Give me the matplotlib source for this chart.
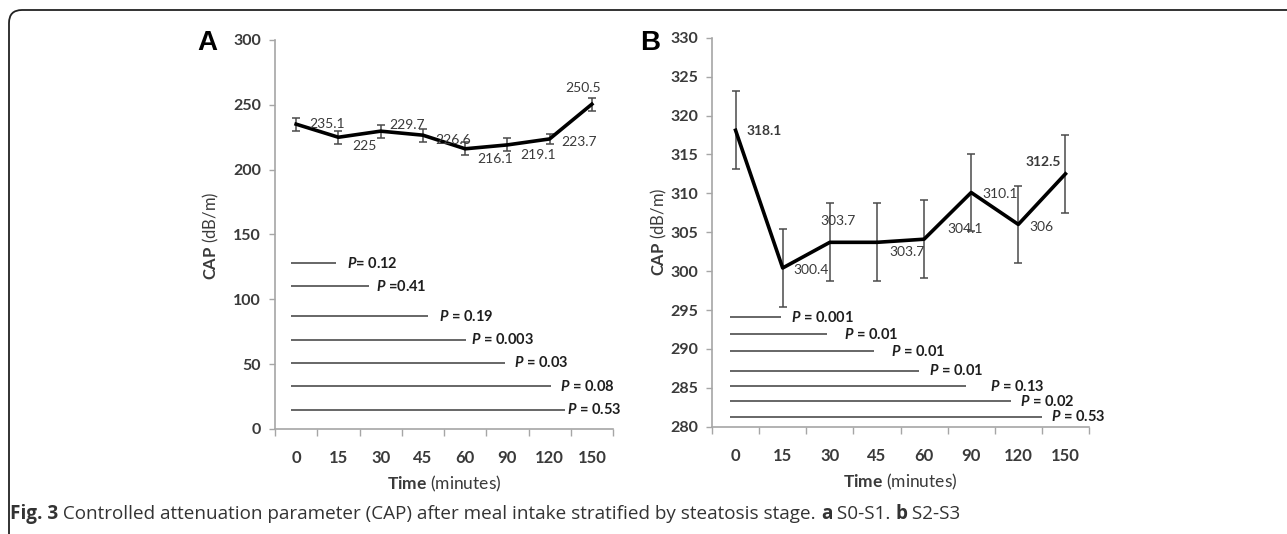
import matplotlib
matplotlib.use("Agg")
import matplotlib.pyplot as plt
from matplotlib.patches import FancyBboxPatch
from matplotlib.transforms import IdentityTransform
import numpy as np

plt.rcParams['font.family'] = ['Lato', 'DejaVu Sans']
plt.rcParams['mathtext.fontset'] = 'custom'
plt.rcParams['mathtext.rm'] = 'Lato'
plt.rcParams['mathtext.bf'] = 'Lato:bold'
plt.rcParams['mathtext.it'] = 'Lato:italic'
plt.rcParams['mathtext.bfit'] = 'Lato:bold:italic'

# ---------------- data ----------------
time_labels = ["0", "15", "30", "45", "60", "90", "120", "150"]

cap_a = [235.1, 225, 229.7, 226.6, 216.1, 219.1, 223.7, 250.5]
err_a = [5, 5, 5, 5, 5, 5, 4, 5]
p_a = ["0.12", "0.41", "0.19", "0.003", "0.03", "0.08", "0.53"]
p_a_prefix = ["= ", " =", " = ", " = ", " = ", " = ", " = "]
p_a_y = [128, 110, 87, 69, 51, 33, 15]

cap_b = [318.1, 300.4, 303.7, 303.7, 304.1, 310.1, 306, 312.5]
err_b = [5, 5, 5, 5, 5, 5, 5, 5]
p_b = ["0.001", "0.01", "0.01", "0.01", "0.13", "0.02", "0.53"]
p_b_y = [294.1, 291.9, 289.7, 287.2, 285.2, 283.3, 281.3]

# ---------------- layout ----------------
W, H = 1287, 534
fig = plt.figure(figsize=(W / 100, H / 100), dpi=100)

def fx(px):
    return px / W

def fy(py):
    return 1 - py / H

# rounded frame in display pixels (top-left corner visible)
frame = FancyBboxPatch((9, -200), 1500, (H - 10) + 200,
                       boxstyle="round,pad=0,rounding_size=13",
                       transform=IdentityTransform(), fill=False,
                       edgecolor="#222222", linewidth=1.3, clip_on=False)
fig.patches.append(frame)

axA = fig.add_axes([fx(275), fy(429), fx(613) - fx(275), fy(40) - fy(429)])
axB = fig.add_axes([fx(712), fy(426.7), fx(1089) - fx(712), fy(37.7) - fy(426.7)])

grey_axis = "#a6a6a6"
txt = "#3a3a3a"

# label offsets (pixels) and alignment
offs_a = [(13, 0, 'left'), (14, -9, 'left'), (9, 6, 'left'), (12, -5, 'left'),
          (12, -10, 'left'), (13, -10, 'left'), (12, -3, 'left'), (-9, 16, 'center')]
bold_a = [False] * 8
offs_b = [(11, -1, 'left'), (11, -2, 'left'), (-9, 21, 'left'), (12, -10, 'left'),
          (23, 10, 'left'), (11, -1, 'left'), (11, -3, 'left'), (-5, 12, 'right')]
bold_b = [True, False, False, False, False, False, False, True]

line_end_a = [0.95, 1.73, 3.12, 4.02, 4.95, 6.04, 6.37]
text_x_a = [1.21, 1.89, 3.38, 4.14, 5.16, 6.25, 6.41]
line_end_b = [0.96, 1.95, 2.93, 3.90, 4.90, 5.85, 6.50]
text_x_b = [1.17, 2.30, 3.29, 4.10, 5.40, 6.04, 6.70]


def style_axis(ax, ylim, yticks):
    x = np.arange(len(time_labels))
    ax.set_xlim(-0.5, len(time_labels) - 0.5)
    ax.set_ylim(*ylim)
    ax.set_yticks(yticks)
    ax.set_xticks(x)
    ax.set_xticklabels(time_labels)
    ax.set_xticks(np.arange(-0.5, len(time_labels)), minor=True)
    ax.tick_params(axis='x', which='major', length=0, pad=15,
                   labelsize=12, labelcolor=txt)
    ax.tick_params(axis='x', which='minor', length=5, color=grey_axis, width=1)
    ax.tick_params(axis='y', length=4, color=grey_axis, width=1,
                   labelsize=11.5, labelcolor=txt, pad=6)
    for lab in ax.get_xticklabels() + ax.get_yticklabels():
        lab.set_fontweight('bold')
    for s in ['top', 'right']:
        ax.spines[s].set_visible(False)
    for s in ['left', 'bottom']:
        ax.spines[s].set_color(grey_axis)
        ax.spines[s].set_linewidth(1.2)
    ax.patch.set_alpha(0)


def draw_panel(ax, vals, errs, offs, bolds, pvals, py, lend, tx, prefixes=None):
    x = np.arange(len(vals))
    ax.errorbar(x, vals, yerr=errs, color='black', lw=2.6, ecolor='#4a4a4a',
                elinewidth=1.1, capsize=3, capthick=1.1, zorder=3)
    for xi, v, (dx, dy, ha), b in zip(x, vals, offs, bolds):
        ax.annotate(f"{v:g}", (xi, v), xytext=(dx, dy), textcoords='offset pixels',
                    ha=ha, va='center', fontsize=10, color='#3a3a3a',
                    fontweight='bold' if b else 'normal', zorder=4)
    for i, (p, y) in enumerate(zip(pvals, py)):
        ax.plot([-0.12, lend[i]], [y, y], color='#5a5a5a', lw=1.3,
                solid_capstyle='butt', zorder=2)
        pre = prefixes[i] if prefixes else " = "
        ax.text(tx[i], y, r"$\bfit{P}$" + pre + p, ha='left', va='center',
                fontsize=10.5, fontweight='bold', color='#1e1e1e')


style_axis(axA, (0, 300), np.arange(0, 301, 50))
draw_panel(axA, cap_a, err_a, offs_a, bold_a, p_a, p_a_y, line_end_a, text_x_a, p_a_prefix)
style_axis(axB, (280, 330), np.arange(280, 331, 5))
draw_panel(axB, cap_b, err_b, offs_b, bold_b, p_b, p_b_y, line_end_b, text_x_b)

for ax in (axA, axB):
    ax.set_xlabel(r"$\bf{Time}$ (minutes)", fontsize=12.5, color=txt, labelpad=6)
    ax.set_ylabel(r"$\bf{CAP}$ (dB/m)", fontsize=12, color=txt)

axA.yaxis.set_label_coords((221 - 275) / (613 - 275), (429 - 236) / (429 - 40))
axB.yaxis.set_label_coords((669 - 712) / (1089 - 712), (426.7 - 232) / (426.7 - 37.7))

# panel letters
fig.text(fx(197), fy(50), "A", fontsize=20, fontweight='bold',
         family=['Liberation Sans', 'DejaVu Sans'], ha='left', va='baseline')
fig.text(fx(640), fy(50), "B", fontsize=20, fontweight='bold',
         family=['Liberation Sans', 'DejaVu Sans'], ha='left', va='baseline')

# caption built piece by piece
cap_parts = [("Fig. 3", 'bold'),
             (" Controlled attenuation parameter (CAP) after meal intake stratified by steatosis stage. ", 'normal'),
             ("a", 'bold'), (" S0-S1. ", 'normal'), ("b", 'bold'), (" S2-S3", 'normal')]
renderer = fig.canvas.get_renderer()
xpos = 10
for s, w in cap_parts:
    t = fig.text(fx(xpos), fy(519), s, fontsize=13.6, fontweight=w, color='#333333',
                 family=['Open Sans', 'DejaVu Sans'], ha='left', va='baseline')
    bb = t.get_window_extent(renderer)
    xpos += bb.width

fig.savefig("out.png", dpi=100)
